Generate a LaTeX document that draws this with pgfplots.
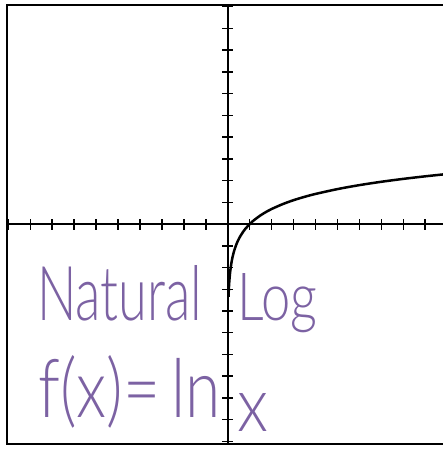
\documentclass[border=0pt]{standalone}
\usepackage{pgfplots}
\pgfplotsset{compat=1.18}
\usepackage{fontspec}
\usepackage{graphicx}
\newfontfamily\hand{Lato}[UprightFont=* Light]
\definecolor{ink}{RGB}{124,98,163}

% sample points of y = ln x
\pgfplotstableread{
x y
0.035 -3.352
0.04 -3.219
0.05 -2.996
0.06 -2.813
0.08 -2.526
0.1 -2.303
0.13 -2.040
0.16 -1.833
0.2 -1.609
0.25 -1.386
0.3 -1.204
0.4 -0.916
0.5 -0.693
0.6 -0.511
0.7 -0.357
0.8 -0.223
1.0 0.000
1.2 0.182
1.5 0.405
1.8 0.588
2.0 0.693
2.5 0.916
3.0 1.099
3.5 1.253
4.0 1.386
5.0 1.609
6.0 1.792
7.0 1.946
8.0 2.079
9.0 2.197
9.81 2.283
}\lncurve

\begin{document}
\begin{tikzpicture}
\useasboundingbox (0,0) rectangle (443pt,449pt);
\begin{axis}[
  at={(7pt,5pt)}, anchor=south west,
  scale only axis, width=436pt, height=439pt,
  xmin=-10.06, xmax=9.81, ymin=-10.12, ymax=10.08,
  axis lines=middle,
  axis line style={line width=1.8pt, black, -},
  xtick={-10,...,9}, ytick={-10,...,10},
  xticklabels={}, yticklabels={},
  tick align=center,
  major tick length=11pt,
  tick style={line width=1.5pt, black},
  clip=false,
]
  % window frame (left, top and bottom edges)
  \draw[line width=2.2pt, line cap=rect]
    (rel axis cs:1,1) -- (rel axis cs:0,1) -- (rel axis cs:0,0) -- (rel axis cs:1,0);

  \addplot[black, line width=2.5pt, smooth, no markers] table[x=x, y=y] {\lncurve};

  % handwritten-style notes
  \node[anchor=base west, inner sep=0pt, text=ink, font=\hand]
    at (axis cs:-8.69,-4.42) {\resizebox{165pt}{55pt}{Natural}};
  \node[anchor=base west, inner sep=0pt, text=ink, font=\hand]
    at (axis cs:0.42,-4.42) {\resizebox{80pt}{47pt}{Log}};
  \node[anchor=base west, inner sep=0pt, text=ink, font=\hand]
    at (axis cs:-8.64,-8.88) {\resizebox{182pt}{62pt}{f(x)=\,ln}};
  \node[anchor=base west, inner sep=0pt, text=ink, font=\hand]
    at (axis cs:0.42,-9.55) {\resizebox{31pt}{38pt}{x}};
\end{axis}
\end{tikzpicture}
\end{document}
